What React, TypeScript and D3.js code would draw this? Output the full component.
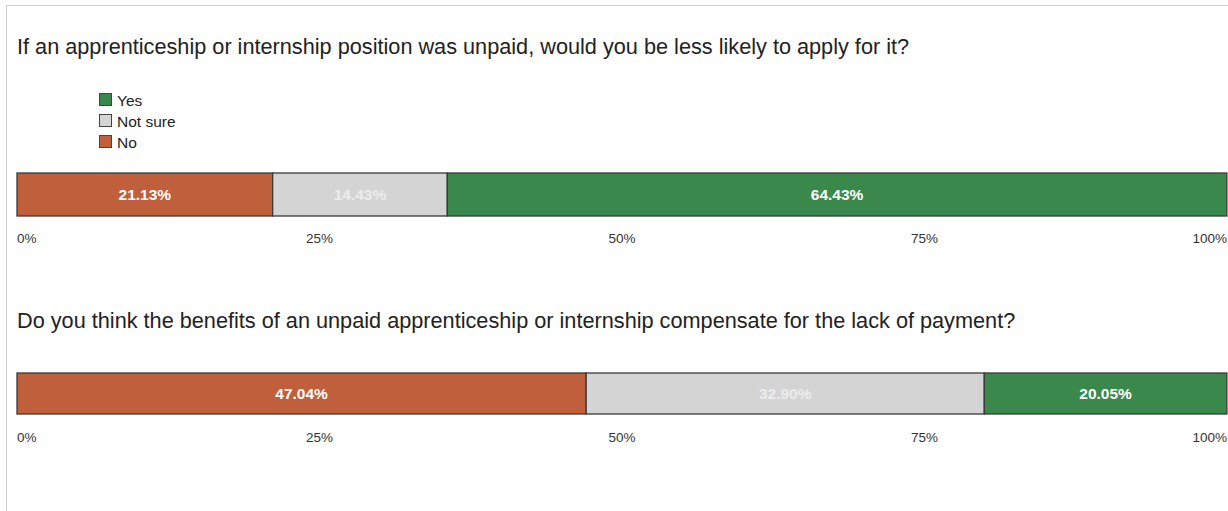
import React from "react";
import * as d3 from "d3";

const questions = [
  "If an apprenticeship or internship position was unpaid, would you be less likely to apply for it?",
  "Do you think the benefits of an unpaid apprenticeship or internship compensate for the lack of payment?",
];
const categories = ["No", "Not sure", "Yes"];
const legendOrder = ["Yes", "Not sure", "No"];
const q1Values = [21.13, 14.43, 64.43];
const q2Values = [47.04, 32.9, 20.05];
const tickValues = [0, 25, 50, 75, 100];

const colors: Record<string, string> = { No: "#bf5f3b", "Not sure": "#d4d4d4", Yes: "#3a884b" };
const labelColors: Record<string, string> = { No: "#ffffff", "Not sure": "#ececec", Yes: "#ffffff" };

const W = 1228, H = 511;
const FONT = "'Liberation Sans', Arial, sans-serif";

export default function App() {
  const x = d3.scaleLinear().domain([0, 100]).range([17, 1227]);
  const blocks = [
    { title: questions[0], values: q1Values, titleY: 54, barY: 173, barH: 43, tickY: 243 },
    { title: questions[1], values: q2Values, titleY: 328, barY: 373, barH: 41, tickY: 442 },
  ];
  return (
    <svg width={W} height={H} style={{ position: "absolute", left: 0, top: 0, background: "#fff" }} fontFamily={FONT}>
      <rect x={6.5} y={5.5} width={W + 10} height={H + 10} fill="none" stroke="#d0d0d0" strokeWidth={1} />
      {blocks.map((b, bi) => {
        let cum = 0;
        const segs = b.values.map((v, i) => {
          const s = { cat: categories[i], v, x0: cum, x1: cum + v };
          cum += v;
          return s;
        });
        return (
          <g key={bi}>
            <text x={17} y={b.titleY} fontSize={21.7} fill="#222">{b.title}</text>
            {segs.map((s) => (
              <g key={s.cat}>
                <rect x={x(s.x0)} y={b.barY} width={x(Math.min(s.x1, 100)) - x(s.x0)} height={b.barH}
                  fill={colors[s.cat]} stroke="#3a3a3a" strokeWidth={1.3} />
                <text x={(x(s.x0) + x(Math.min(s.x1, 100))) / 2} y={b.barY + b.barH / 2 + 5.5} textAnchor="middle"
                  fontSize={15.5} fontWeight="bold" fill={labelColors[s.cat]}>{s.v.toFixed(2)}%</text>
              </g>
            ))}
            {tickValues.map((t, i) => (
              <text key={t} x={x(t)} y={b.tickY} fontSize={13.5} fill="#333"
                textAnchor={i === 0 ? "start" : i === tickValues.length - 1 ? "end" : "middle"}>{t}%</text>
            ))}
          </g>
        );
      })}
      {legendOrder.map((c, i) => (
        <g key={c}>
          <rect x={99.5} y={93.5 + i * 21} width={12} height={12} fill={colors[c]} stroke="#444" strokeWidth={1} />
          <text x={117} y={106 + i * 21} fontSize={15.5} fill="#222">{c}</text>
        </g>
      ))}
    </svg>
  );
}
